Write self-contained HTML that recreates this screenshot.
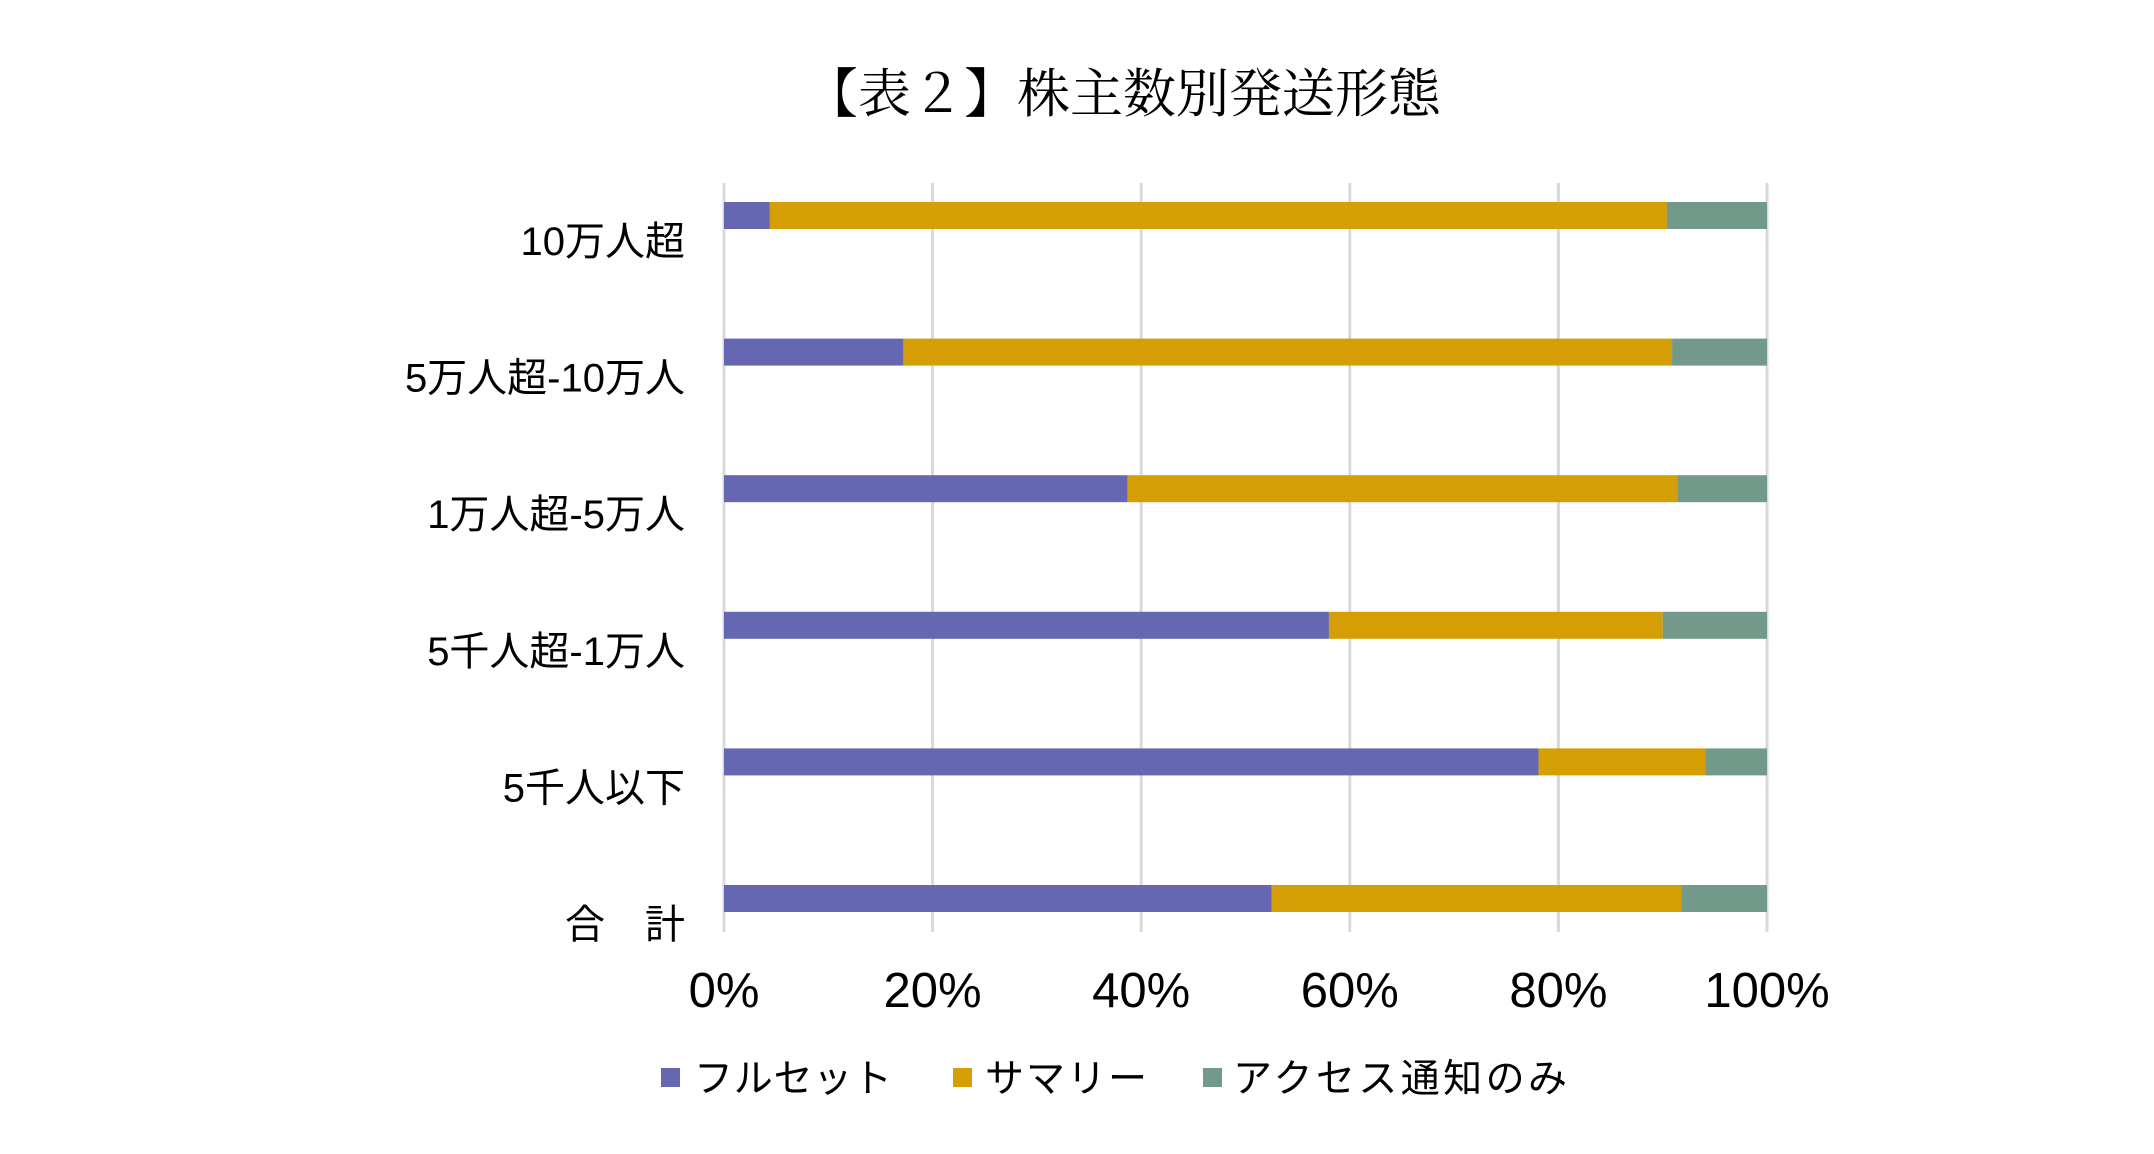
<!DOCTYPE html>
<html><head><meta charset="utf-8"><style>
html,body{margin:0;padding:0;background:#fff;}
svg{display:block;}
</style></head><body>
<svg id="chart" width="2154" height="1154" viewBox="0 0 2154 1154" xmlns="http://www.w3.org/2000/svg">
<rect width="2154" height="1154" fill="#fff"/>
<text x="1123" y="112" text-anchor="middle" font-family="'Liberation Serif','Noto Serif CJK JP','Noto Serif CJK SC',serif" font-size="53" fill="#000">【表２】株主数別発送形態</text>
<g id="grid"></g>
<g id="bars"></g>
<g id="ylabels"></g>
<g id="xlabels"></g>
<g font-family="'Liberation Sans','Noto Sans CJK JP',sans-serif" font-size="39" fill="#000">
  <g>
    <rect x="661" y="1068" width="19" height="19" fill="#6667b3"/>
    <text x="694" y="1092" textLength="198">フルセット</text>
  </g>
  <g>
    <rect x="953" y="1068" width="19" height="19" fill="#d49e04"/>
    <text x="985" y="1092" textLength="162">サマリー</text>
  </g>
  <g>
    <rect x="1203" y="1068" width="19" height="19" fill="#73998a"/>
    <text x="1233" y="1092" textLength="334">アクセス通知のみ</text>
  </g>
</g>
</svg>
<script>
const categories = ["10万人超","5万人超-10万人","1万人超-5万人","5千人超-1万人","5千人以下","合　計"];
const fullset = [4.4, 17.2, 38.7, 58.0, 78.1, 52.5];
const summary = [86.0, 73.7, 52.7, 32.0, 16.0, 39.3];
const access = [9.6, 9.1, 8.6, 10.0, 5.9, 8.2];
const tickValues = [0, 20, 40, 60, 80, 100];
const tickLabels = ["0%","20%","40%","60%","80%","100%"];

const NS = "http://www.w3.org/2000/svg";
const X0 = 724, X1 = 1767;
const x = v => X0 + (X1 - X0) * v / 100;
const rowTop0 = 202, rowStep = 136.6, barH = 27;
const y = i => rowTop0 + i * rowStep;

const grid = document.getElementById('grid');
tickValues.forEach((t, i) => {
  const l = document.createElementNS(NS, 'line');
  l.setAttribute('x1', x(t)); l.setAttribute('x2', x(t));
  l.setAttribute('y1', 183); l.setAttribute('y2', 932);
  l.setAttribute('stroke', '#d9d9d9'); l.setAttribute('stroke-width', 3);
  
  
  grid.appendChild(l);
  const tx = document.createElementNS(NS, 'text');
  tx.setAttribute('x', x(t)); tx.setAttribute('y', 1007);
  tx.setAttribute('text-anchor', 'middle');
  tx.setAttribute('font-family', "'Liberation Sans',sans-serif");
  tx.setAttribute('font-size', 49);
  tx.textContent = tickLabels[i];
  
  
  document.getElementById('xlabels').appendChild(tx);
});

const series = [
  {vals: fullset, color: '#6667b3', name: 'fullset'},
  {vals: summary, color: '#d49e04', name: 'summary'},
  {vals: access, color: '#73998a', name: 'access'}
];
const bars = document.getElementById('bars');
categories.forEach((c, i) => {
  let acc = 0;
  series.forEach(s => {
    const v = s.vals[i];
    const r = document.createElementNS(NS, 'rect');
    r.setAttribute('x', x(acc)); r.setAttribute('y', y(i));
    r.setAttribute('width', x(acc + v) - x(acc)); r.setAttribute('height', barH);
    r.setAttribute('fill', s.color);
    
    
    bars.appendChild(r);
    acc += v;
  });
  const t = document.createElementNS(NS, 'text');
  t.setAttribute('x', 685); t.setAttribute('y', y(i) + 53);
  t.setAttribute('text-anchor', 'end');
  t.setAttribute('font-family', "'Liberation Sans','Noto Sans CJK JP',sans-serif");
  t.setAttribute('font-size', 40);
  t.textContent = c;
  
  
  document.getElementById('ylabels').appendChild(t);
});
</script>
</body></html>
